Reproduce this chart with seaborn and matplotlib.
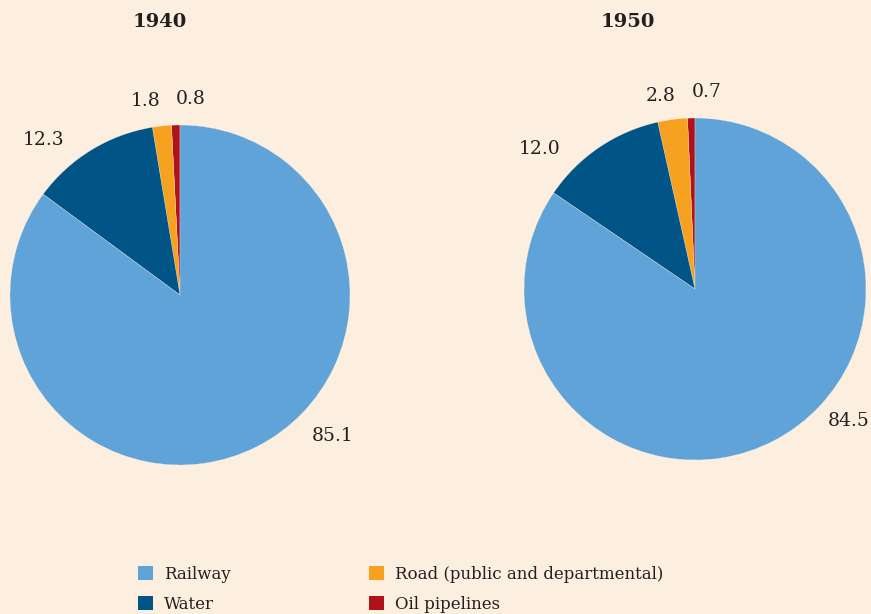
import matplotlib
matplotlib.use("Agg")
import matplotlib.pyplot as plt
from matplotlib.patches import Patch
import seaborn as sns

# Share of freight traffic by mode of transport (%)
modes = ["Oil pipelines", "Road (public and departmental)", "Water", "Railway"]
share_1940 = [0.8, 1.8, 12.3, 85.1]
share_1950 = [0.7, 2.8, 12.0, 84.5]
years = ["1940", "1950"]

colors = {
    "Railway": "#5fa3d8",
    "Water": "#005486",
    "Road (public and departmental)": "#f6a11f",
    "Oil pipelines": "#b0121b",
}
legend_order = ["Railway", "Water", "Road (public and departmental)", "Oil pipelines"]

# label placement, in units of pie radius (same order as modes)
label_pos_1940 = [(0.06, 1.15), (-0.20, 1.14), (-0.80, 0.91), (0.90, -0.83)]
label_pos_1950 = [(0.07, 1.15), (-0.20, 1.13), (-0.91, 0.82), (0.90, -0.77)]

bg = "#fdefe0"
sns.set_theme(style="white", rc={"figure.facecolor": bg, "axes.facecolor": bg})
plt.rcParams["font.family"] = ["DejaVu Serif"]

W, H = 871, 614
fig = plt.figure(figsize=(W / 100, H / 100), dpi=100)


def add_pie(cx, cy, r, values, label_pos, title, title_x):
    ax = fig.add_axes([(cx - r) / W, (H - cy - r) / H, 2 * r / W, 2 * r / H])
    ax.set_facecolor("none")
    ax.pie(values, colors=[colors[m] for m in modes], startangle=90,
           counterclock=True, radius=1,
           wedgeprops=dict(edgecolor=bg, linewidth=0.2))
    for v, (x, y) in zip(values, label_pos):
        ax.text(x, y, f"{v:.1f}", ha="center", va="center", fontsize=13.5,
                color="#231f20")
    ax.set_xlim(-1, 1)
    ax.set_ylim(-1, 1)
    ax.set_aspect("equal")
    ax.axis("off")
    fig.text(title_x / W, 1 - 22 / H, title, ha="center", va="center",
             fontsize=14, fontweight="bold", color="#231f20")


add_pie(180, 295, 170, share_1940, label_pos_1940, years[0], 160)
add_pie(695, 289, 171, share_1950, label_pos_1950, years[1], 628)

handles = [Patch(facecolor=colors[m], edgecolor="none", label=m) for m in legend_order]
fig.legend(handles=handles, ncol=2, loc="upper left",
           bbox_to_anchor=(123 / W, 1 - 551 / H), frameon=False,
           fontsize=12, handlelength=0.9, handleheight=0.9,
           handletextpad=0.65, columnspacing=8.3, labelspacing=0.78,
           labelcolor="#231f20")

fig.savefig("out.png", dpi=100, facecolor=bg)
